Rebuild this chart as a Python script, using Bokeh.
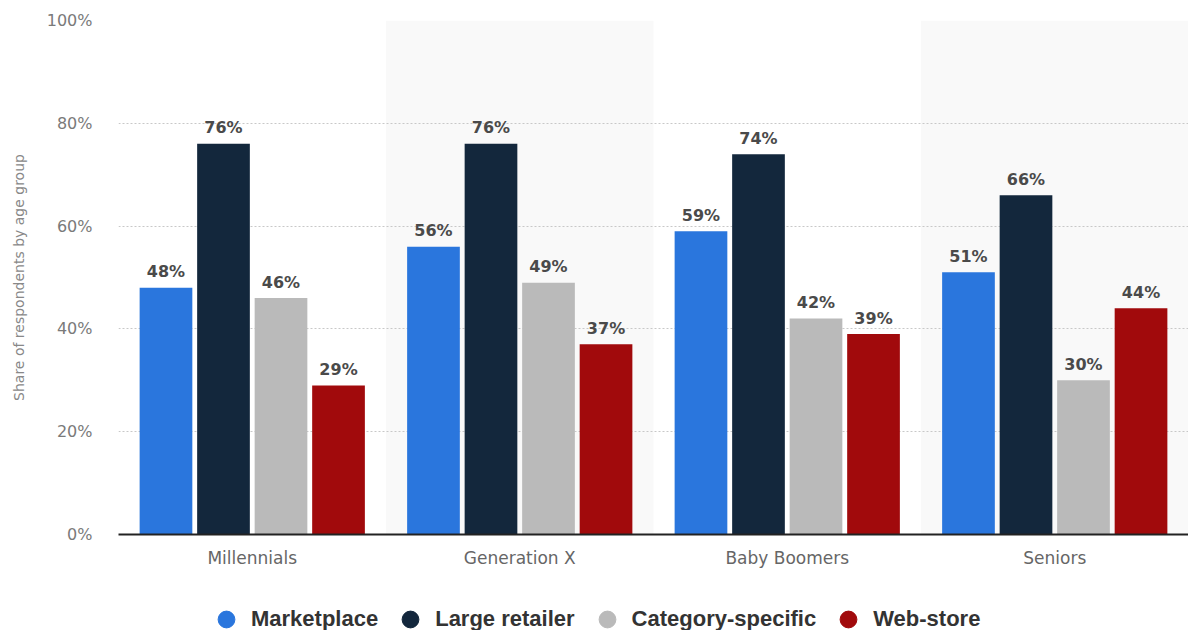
from bokeh.plotting import figure
from bokeh.layouts import column
from bokeh.models import FactorRange, Range1d, Legend, LegendItem, ColumnDataSource, FixedTicker
from bokeh.transform import dodge
from bokeh.core.properties import value
from bokeh.embed import file_html
from bokeh.resources import INLINE

age_groups = ["Millennials", "Generation X", "Baby Boomers", "Seniors"]
series_names = ["Marketplace", "Large retailer", "Category-specific", "Web-store"]
marketplace = [48, 56, 59, 51]
large_retailer = [76, 76, 74, 66]
category_specific = [46, 49, 42, 30]
web_store = [29, 37, 39, 44]
y_ticks = [0, 20, 40, 60, 80, 100]
y_tick_labels = ["0%", "20%", "40%", "60%", "80%", "100%"]
shaded_groups = ["Generation X", "Seniors"]

colors = ["#2a76dd", "#13273c", "#bababa", "#a10a0c"]
offsets = [-0.3225, -0.1075, 0.1075, 0.3225]
keys = ["m", "l", "c", "w"]
series_values = [marketplace, large_retailer, category_specific, web_store]

data = dict(group=age_groups)
for k, vals in zip(keys, series_values):
    data[k] = vals
    data[k + "_lbl"] = [f"{v}%" for v in vals]
src = ColumnDataSource(data)

p = figure(width=1188, height=580,
           x_range=FactorRange(*age_groups), y_range=Range1d(0, 100),
           output_backend="svg", toolbar_location=None,
           min_border_left=118, min_border_right=0, min_border_top=20, min_border_bottom=46)
p.outline_line_color = None
p.background_fill_color = "white"
p.border_fill_color = "white"

# shaded bands
p.vbar(x=shaded_groups, top=100, bottom=0, width=1.0, fill_color="#f9f9f9",
       line_color=None, level="image")

label_font = value("DejaVu Sans")
for k, off, col in zip(keys, offsets, colors):
    xd = dodge("group", off, range=p.x_range)
    p.vbar(x=xd, top=k, bottom=0, width=0.197, source=src, fill_color=col, line_color=None)
    p.text(x=xd, y=k, text=k + "_lbl", source=src, text_align="center",
           text_baseline="alphabetic", y_offset=-16, text_font=label_font,
           text_font_style="bold", text_font_size="16px", text_color="#4a4a4a")

# axes
p.yaxis.ticker = FixedTicker(ticks=y_ticks)
p.yaxis.major_label_overrides = {t: l for t, l in zip(y_ticks, y_tick_labels)}
p.yaxis.axis_line_color = None
p.yaxis.major_tick_line_color = None
p.yaxis.minor_tick_line_color = None
p.yaxis.major_label_standoff = 20
p.yaxis.major_label_text_font = "DejaVu Sans"
p.yaxis.major_label_text_font_size = "16px"
p.yaxis.major_label_text_color = "#7a7a7a"
p.yaxis.axis_label = "Share of respondents by age group"
p.yaxis.axis_label_text_font = "DejaVu Sans"
p.yaxis.axis_label_text_font_size = "14px"
p.yaxis.axis_label_text_font_style = "normal"
p.yaxis.axis_label_text_color = "#888888"
p.yaxis.axis_label_standoff = 17

p.xaxis.axis_line_color = "#222222"
p.xaxis.axis_line_width = 2
p.xaxis.major_tick_line_color = None
p.xaxis.minor_tick_line_color = None
p.xaxis.major_label_standoff = 7
p.xaxis.major_label_text_font = "DejaVu Sans"
p.xaxis.major_label_text_font_size = "17px"
p.xaxis.major_label_text_color = "#666666"

p.xgrid.visible = False
p.ygrid.ticker = FixedTicker(ticks=y_ticks[1:])
p.ygrid.grid_line_dash = "2 2"
p.ygrid.grid_line_color = "#c8c8c8"
p.ygrid.grid_line_width = 1

# legend strip
lf = figure(width=1188, height=50, x_range=FactorRange(*series_names),
            y_range=FactorRange(*series_names),
            x_axis_type=None, y_axis_type=None, output_backend="svg", toolbar_location=None,
            min_border_left=0, min_border_right=0, min_border_top=0, min_border_bottom=0)
lf.outline_line_color = None
lf.xgrid.visible = False
lf.ygrid.visible = False
items = []
for name, col in zip(series_names, colors):
    r = lf.scatter(x=[name], y=[name], marker="circle", size=17,
                   fill_color=col, line_color=col, visible=False)
    items.append(LegendItem(label=name, renderers=[r]))
legend = Legend(items=items, location=(87, -10), orientation="horizontal",
                glyph_width=42, glyph_height=42, label_standoff=4, spacing=11,
                padding=0, margin=0, border_line_color=None, background_fill_alpha=0,
                label_text_font="Liberation Sans", label_text_font_style="bold",
                label_text_font_size="22px", label_text_color="#333333")
lf.add_layout(legend, "center")

layout = column(p, lf, spacing=0)
open("out.html", "w").write(file_html(layout, INLINE))
